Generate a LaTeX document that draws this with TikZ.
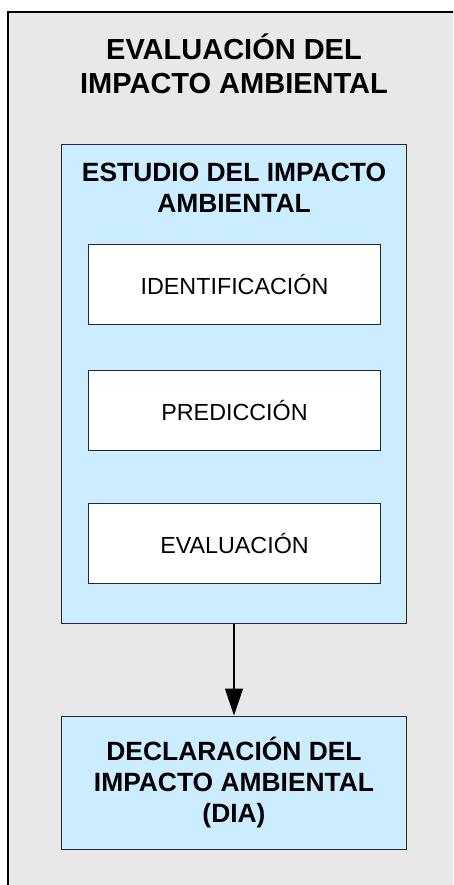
\documentclass[tikz,border=0pt]{standalone}
\usepackage{fontspec}
\setmainfont{Liberation Sans}
\usetikzlibrary{arrows.meta}
\definecolor{panelgray}{RGB}{232,232,232}
\definecolor{studyblue}{RGB}{204,236,255}
\definecolor{edgegray}{RGB}{40,40,40}

\begin{document}
\begin{tikzpicture}[x=1pt,y=1pt,every node/.style={font=\fontsize{23.3}{28}\selectfont},
  headtext/.style={font=\fontsize{26.4}{31}\selectfont\bfseries,align=center},
  bluebox/.style={draw=edgegray,fill=studyblue,line width=1pt,minimum width=345pt,inner sep=0pt},
  stagebox/.style={draw=edgegray,fill=white,line width=1pt,minimum width=292.4pt,minimum height=80pt,inner sep=0pt}]
\useasboundingbox (0,0) rectangle (453,-885);
\clip (0,0) rectangle (453,-885);
\fill[panelgray] (8,-12) rectangle (470,-900);
\draw[black,line width=1.6pt] (8,-900) -- (8,-12) -- (470,-12);
\node[headtext,font=\fontsize{29}{33.4}\selectfont\bfseries] (title) at (234,-63.7) {EVALUACIÓN DEL\\IMPACTO AMBIENTAL};
\node[bluebox,minimum height=478.3pt] (eia) at (234,-384.15) {};
\node[headtext] (eiatitle) at (234,-187.5) {ESTUDIO DEL IMPACTO\\AMBIENTAL};
\node[stagebox] (ident) at (234.5,-284.3) {IDENTIFICACIÓN};
\node[stagebox] (pred) at (234.5,-410.85) {PREDICCIÓN};
\node[stagebox] (evalu) at (234.5,-543.65) {EVALUACIÓN};
\node[bluebox,minimum height=133pt,headtext] (dia) at (234,-782.5) {DECLARACIÓN DEL\\IMPACTO AMBIENTAL\\(DIA)};
\draw[-{Triangle[length=27pt,width=18pt]},line width=1.3pt] (eia.south) -- (dia.north);
\end{tikzpicture}
\end{document}
